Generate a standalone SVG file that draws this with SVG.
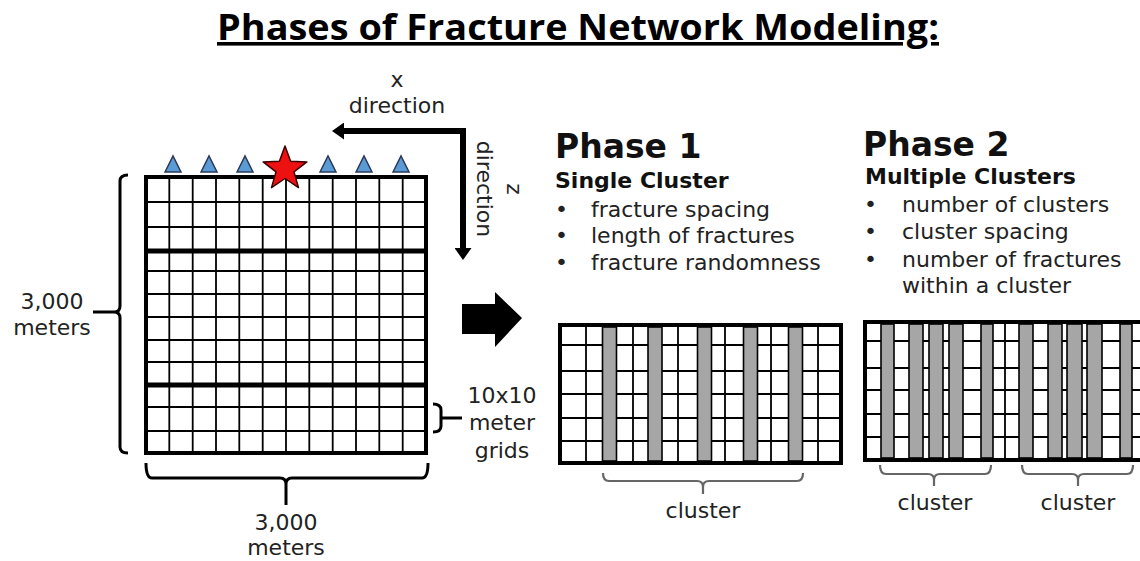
<svg xmlns="http://www.w3.org/2000/svg" width="1140" height="561" viewBox="0 0 1140 561">
<style>
  .t { font-family: "DejaVu Sans", Verdana, sans-serif; font-size: 22px; fill: #222; }
  .c { text-anchor: middle; }
  .b { font-weight: bold; fill: #111; }
  .ph { font-family: "DejaVu Sans", Verdana, sans-serif; font-size: 33px; font-weight: bold; fill: #111; }
  .title { font-family: "Open Sans", "DejaVu Sans", sans-serif; font-size: 36px; font-weight: bold; fill: #000; text-decoration: underline; }
  .border { fill: #fff; stroke: #000; stroke-width: 4; }
  .thin { fill: none; stroke: #000; stroke-width: 1.8; }
  .thick { fill: none; stroke: #000; stroke-width: 5; }
  .bar { fill: #a6a6a6; stroke: #000; stroke-width: 1.6; }
  .brace { fill: none; stroke: #000; stroke-width: 3; }
  .gbrace { fill: none; stroke: #666; stroke-width: 2.2; }
  .tri { fill: #5b9bd5; stroke: #2a3a55; stroke-width: 1.5; }
</style>
<defs>
  <marker id="ah" viewBox="0 0 12 17" refX="0" refY="8.5" markerWidth="12" markerHeight="17" markerUnits="userSpaceOnUse" orient="auto-start-reverse">
    <path d="M0,0 L12,8.5 L0,17 z" fill="#000"/>
  </marker>
</defs>

<g id="title">
  <text class="title c" x="578" y="40" textLength="722" lengthAdjust="spacingAndGlyphs">Phases of Fracture Network Modeling:</text>
</g>

<g id="domain-grid">
  <rect class="border" x="146" y="177" width="280" height="276"/>
  <path class="thin" d="M169.3,177V453 M192.7,177V453 M216,177V453 M239.3,177V453 M262.7,177V453 M286,177V453 M309.3,177V453 M332.7,177V453 M356,177V453 M379.3,177V453 M402.7,177V453
    M146,202H426 M146,227H426 M146,271H426 M146,294H426 M146,317H426 M146,340H426 M146,362H426 M146,407H426 M146,431H426"/>
  <path class="thick" d="M146,251H426 M146,385H426"/>
</g>

<g id="receivers">
  <polygon class="tri" points="165,172 173,156 181,172"/>
  <polygon class="tri" points="201,172 209,156 217,172"/>
  <polygon class="tri" points="237,172 245,156 253,172"/>
  <polygon class="tri" points="320,172 328,156 336,172"/>
  <polygon class="tri" points="356,172 364,156 372,172"/>
  <polygon class="tri" points="393,172 401,156 409,172"/>
</g>

<g id="source-star">
  <polygon points="285,146 290.6,161.3 306.9,161.9 294,171.9 298.5,187.6 285,178.5 271.5,187.6 276,171.9 263.1,161.9 279.4,161.3" fill="#ee1111" stroke="#3a0000" stroke-width="1.5" stroke-linejoin="round"/>
</g>

<g id="direction-labels">
  <text class="t c" x="397" y="87">x</text>
  <text class="t c" x="397" y="113">direction</text>
  <g transform="translate(477,189) rotate(90)">
    <text class="t c" x="0" y="-30">z</text>
    <text class="t c" x="0" y="0">direction</text>
  </g>
</g>

<g id="height-label">
  <text class="t c" x="52" y="309">3,000</text>
  <text class="t c" x="52" y="335">meters</text>
</g>

<g id="width-label">
  <text class="t c" x="286" y="530">3,000</text>
  <text class="t c" x="286" y="555">meters</text>
</g>

<g id="cell-label">
  <text class="t c" x="502" y="403">10x10</text>
  <text class="t c" x="502" y="430">meter</text>
  <text class="t c" x="502" y="458">grids</text>
</g>

<g id="phase1-text">
  <text class="ph" x="555" y="158">Phase 1</text>
  <text class="t b" x="555" y="188">Single Cluster</text>
  <text class="t" x="555" y="217">•</text>
  <text class="t" x="591" y="217">fracture spacing</text>
  <text class="t" x="555" y="243">•</text>
  <text class="t" x="591" y="243">length of fractures</text>
  <text class="t" x="555" y="270">•</text>
  <text class="t" x="591" y="270">fracture randomness</text>
</g>

<g id="phase2-text">
  <text class="ph" x="863" y="156">Phase 2</text>
  <text class="t b" x="865" y="184">Multiple Clusters</text>
  <text class="t" x="864" y="212">•</text>
  <text class="t" x="902" y="212">number of clusters</text>
  <text class="t" x="864" y="239">•</text>
  <text class="t" x="902" y="239">cluster spacing</text>
  <text class="t" x="864" y="267">•</text>
  <text class="t" x="902" y="267">number of fractures</text>
  <text class="t" x="902" y="293">within a cluster</text>
</g>

<g id="phase1-grid">
  <rect class="border" x="560" y="325" width="281" height="138"/>
  <path class="thin" d="M586,325V463 M633,325V463 M678,325V463 M725,325V463 M771,325V463 M818,325V463
    M560,345H841 M560,371H841 M560,394H841 M560,418H841 M560,441H841"/>
  <rect class="bar" x="602.5" y="327" width="14" height="134"/>
  <rect class="bar" x="648" y="327" width="14" height="134"/>
  <rect class="bar" x="697.5" y="327" width="14" height="134"/>
  <rect class="bar" x="743.5" y="327" width="14" height="134"/>
  <rect class="bar" x="788.5" y="327" width="14" height="134"/>
  <path class="gbrace" d="M603,473 Q603,481 609,481 H697 Q703,481 703,487 V494 M703,487 Q703,481 709,481 H797 Q803,481 803,473"/>
  <text class="t c" x="703" y="518">cluster</text>
</g>

<g id="phase2-grid">
  <rect class="border" x="865" y="322" width="290" height="138"/>
  <path class="thin" d="M1005,322V460 M865,341H1140 M865,368H1140 M865,390H1140 M865,414H1140 M865,437H1140"/>
  <rect class="bar" x="881" y="324" width="13" height="134"/>
  <rect class="bar" x="909" y="324" width="14" height="134"/>
  <rect class="bar" x="929" y="324" width="14" height="134"/>
  <rect class="bar" x="949" y="324" width="14" height="134"/>
  <rect class="bar" x="981" y="324" width="12" height="134"/>
  <rect class="bar" x="1019" y="324" width="14" height="134"/>
  <rect class="bar" x="1048" y="324" width="14" height="134"/>
  <rect class="bar" x="1067" y="324" width="15" height="134"/>
  <rect class="bar" x="1087" y="324" width="15" height="134"/>
  <rect class="bar" x="1120" y="324" width="12" height="134"/>
  <path class="gbrace" d="M880,465 Q880,474 886,474 H928 Q934,474 934,480 V486 M934,480 Q934,474 940,474 H985 Q991,474 991,465"/>
  <path class="gbrace" d="M1022,465 Q1022,474 1028,474 H1072 Q1078,474 1078,480 V486 M1078,480 Q1078,474 1084,474 H1127 Q1133,474 1133,465"/>
  <text class="t c" x="935" y="510">cluster</text>
  <text class="t c" x="1078" y="510">cluster</text>
</g>

<g id="connectors">
  <path d="M344,131 H463 V248" fill="none" stroke="#000" stroke-width="6" stroke-linejoin="miter" marker-start="url(#ah)" marker-end="url(#ah)"/>
  <polygon points="462,304 495,304 495,292 522,318 495,347 495,334 462,334" fill="#000"/>
  <path class="brace" d="M128,175 Q120,175 120,181 V306 Q120,312 114,312 H93 M114,312 Q120,312 120,318 V447 Q120,453 128,453"/>
  <path class="brace" d="M146,463 Q146,478 152,478 H280 Q286,478 286,484 V505 M286,484 Q286,478 292,478 H422 Q428,478 428,463"/>
  <path class="brace" d="M433,404 Q441,404 441,410 V418 H462 M441,418 V426 Q441,432 433,432"/>
</g>
</svg>
